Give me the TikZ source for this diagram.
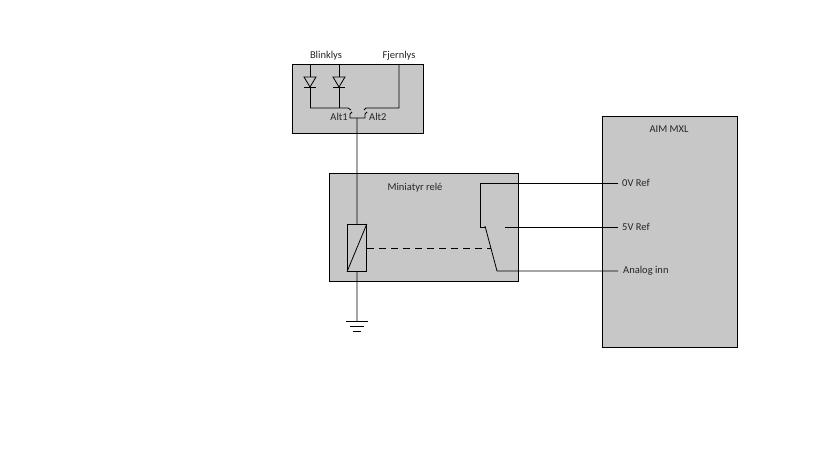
\documentclass[tikz,border=0pt]{standalone}
\usepackage{fontspec}
\setmainfont{Carlito}
\begin{document}
\begin{tikzpicture}[x=1pt,y=-1pt,
  box/.style={draw=black, fill=boxgray, line width=0.8pt, inner sep=0pt, anchor=north west},
  wire/.style={draw=black, line width=0.8pt},
  lbl/.style={font=\fontsize{10.5}{12}\selectfont, inner sep=0pt, text=black!85}]
\definecolor{boxgray}{RGB}{199,199,199}
\useasboundingbox[fill=white] (0,0) rectangle (819,460);
% boxes
\node[box, minimum width=131pt, minimum height=69pt] (topbox) at (292,64) {};
\node[box, minimum width=189pt, minimum height=108pt] (relay) at (329,173) {};
\node[box, minimum width=135pt, minimum height=231pt] (aim) at (602,116) {};
\node[box, minimum width=19pt, minimum height=47pt] (coil) at (347,224) {};
% labels
\node[lbl] (blink) at (326,56) {Blinklys};
\node[lbl] (fjern) at (399,56) {Fjernlys};
\node[lbl, anchor=east] (alt1) at (348,117) {Alt1};
\node[lbl, anchor=west] (alt2) at (369,117) {Alt2};
\node[lbl] (mrele) at (415,188) {Miniatyr relé};
\node[lbl] (aimt) at (669,129) {AIM MXL};
\node[lbl, anchor=west] (ov) at (622,183) {0V Ref};
\node[lbl, anchor=west] (fv) at (622,227) {5V Ref};
\node[lbl, anchor=west] (ain) at (623,271) {Analog inn};
% diodes
\foreach \x/\n in {310/da,339/db}{
  \coordinate (\n top) at (\x,64);
  \coordinate (\n bot) at (\x,108);
  \draw[wire] (\n top) -- (\x,77);
  \draw[wire] (\x-6,77) -- (\x+6,77) -- (\x,87) -- cycle;
  \draw[wire] (\x-6,87) -- (\x+6,87);
  \draw[wire] (\x,87) -- (\n bot);
}
% switch
\coordinate (swl) at (348,108);
\coordinate (swr) at (366,108);
\coordinate (swc) at (357,118);
\coordinate (fj) at (399,64);
\draw[wire] (dabot) -- (swl) -- (351,110);
\draw[wire] (fj) -- (399,108) -- (swr) -- (364,110);
\draw[wire] (352,112) -- (350,114) -- (350,118) -- (365,118) -- (365,114) -- (367,112);
% wire to coil
\draw[wire] (swc) -- (coil.north);
\draw[wire] (coil.south west) -- (coil.north east);
\coordinate (gnd) at (357,321);
\draw[wire] (coil.south) -- (gnd);
\draw[wire] (346,321) -- (368,321);
\draw[wire] (350,326) -- (364,326);
\draw[wire] (353,331) -- (361,331);
% dashed link
\coordinate (blade) at (491,248);
\draw[wire, dash pattern=on 7pt off 5pt] (coil.east |- blade) -- (blade);
% relay contacts
\coordinate (ovend) at (618,183);
\coordinate (fvend) at (618,227);
\coordinate (ainend) at (618,271);
\draw[wire] (ovend) -- (480,183) -- (480,227) -- (485,227);
\draw[wire] (485,226) -- (497,271) -- (ainend);
\draw[wire] (505,227) -- (fvend);
\end{tikzpicture}
\end{document}
